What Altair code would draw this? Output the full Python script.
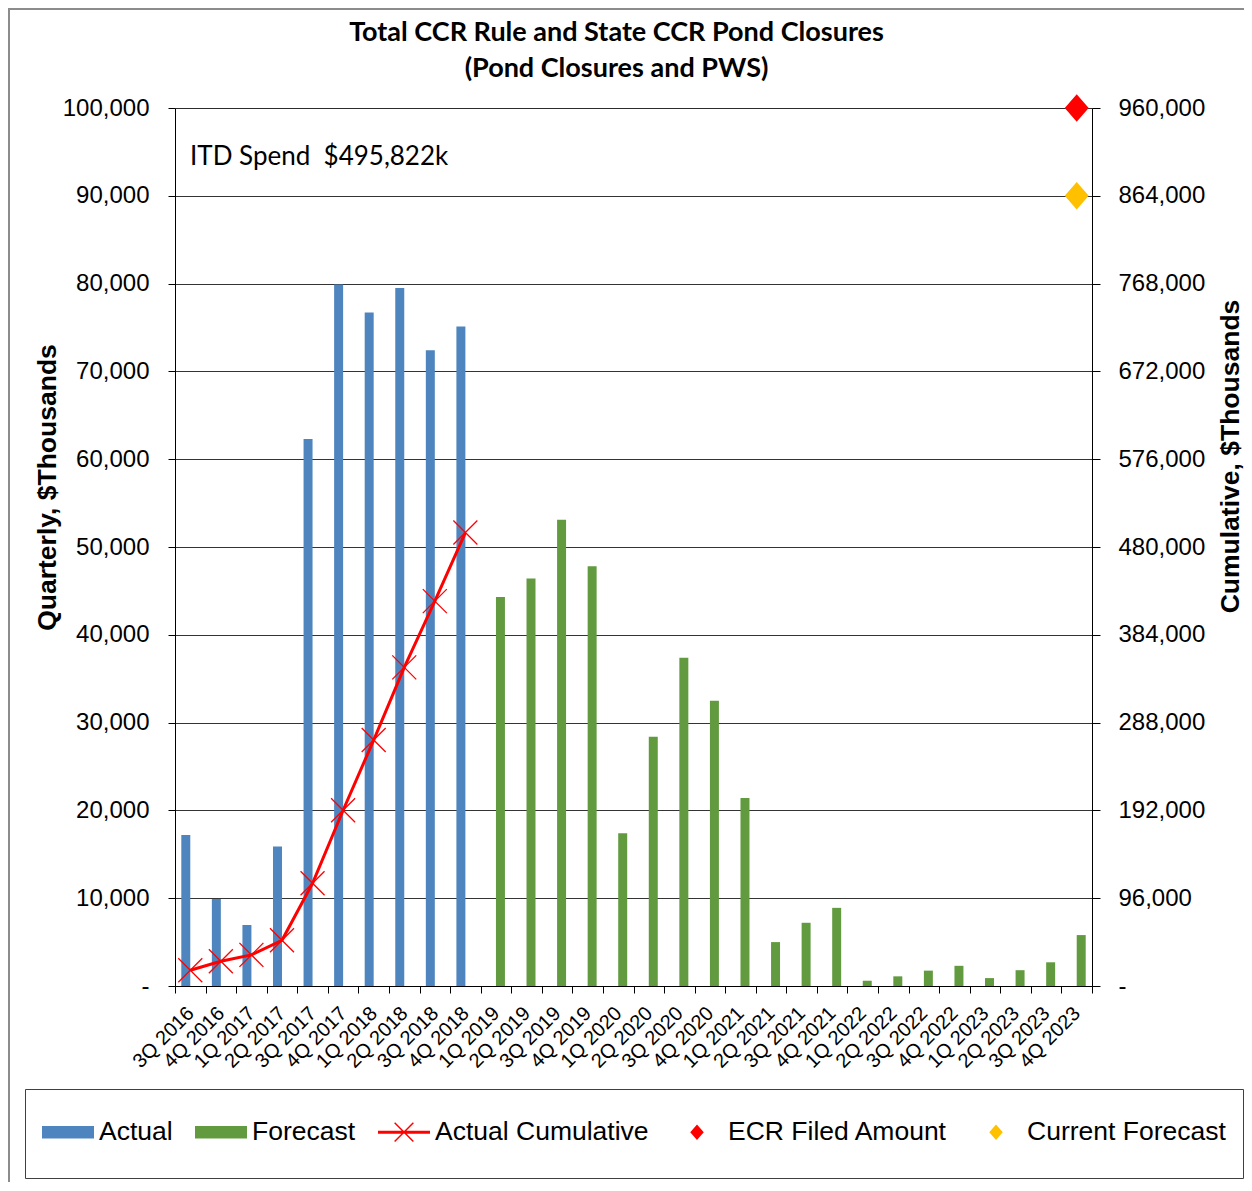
import altair as alt
import pandas as pd

# ---------------- data ----------------
categories = [
    "3Q 2016", "4Q 2016", "1Q 2017", "2Q 2017", "3Q 2017", "4Q 2017",
    "1Q 2018", "2Q 2018", "3Q 2018", "4Q 2018", "1Q 2019", "2Q 2019",
    "3Q 2019", "4Q 2019", "1Q 2020", "2Q 2020", "3Q 2020", "4Q 2020",
    "1Q 2021", "2Q 2021", "3Q 2021", "4Q 2021", "1Q 2022", "2Q 2022",
    "3Q 2022", "4Q 2022", "1Q 2023", "2Q 2023", "3Q 2023", "4Q 2023",
]
actual_quarters = categories[:10]
actual_values = [17200, 9900, 6950, 15900, 62300, 79900, 76700, 79500, 72400, 75100]
cumulative_values = [17200, 27100, 34000, 50000, 112300, 192200, 268900, 348400, 420800, 495822]

forecast_quarters = categories[10:]
forecast_values = [44300, 46400, 53100, 47800, 17400, 28400, 37400, 32500, 21400, 5000,
                   7200, 8900, 600, 1100, 1750, 2300, 900, 1800, 2700, 5800]

marker_quarter = "4Q 2023"
ecr_filed_amount = 960000
current_forecast = 864000
itd_label = "ITD Spend\u00a0 $495,822k"

series_names = ["Actual", "Forecast", "Actual Cumulative", "ECR Filed Amount", "Current Forecast"]
series_colors = ["#4E85BE", "#629B3F", "#FF0000", "#FF0000", "#FFC000"]

left_ticks = list(range(0, 100001, 10000))
right_ticks = list(range(0, 960001, 96000))

title_lines = ["Total CCR Rule and State CCR Pond Closures", "(Pond Closures and PWS)"]

# ---------------- tables ----------------
bars_df = pd.DataFrame({
    "quarter": actual_quarters + forecast_quarters,
    "value": actual_values + forecast_values,
    "series": ["Actual"] * len(actual_values) + ["Forecast"] * len(forecast_values),
})
cum_df = pd.DataFrame({"quarter": actual_quarters, "value": cumulative_values,
                       "series": "Actual Cumulative"})
diamond_df = pd.DataFrame({
    "quarter": [marker_quarter, marker_quarter],
    "value": [ecr_filed_amount, current_forecast],
    "series": ["ECR Filed Amount", "Current Forecast"],
})
note_df = pd.DataFrame({"label": [itd_label]})

FONT = "Liberation Sans"

# legend / marker symbols (custom paths, unit box -1..1)
# the zero-area sub-paths only widen the legend row height (same for every entry)
pad_path = "M0,-1.1L0.001,-1.1L0,-1.1Z M0,1.1L0.001,1.1L0,1.1Z"
bar_path = "M-1,-0.24H1V0.24H-1Z" + pad_path
linex_path = ("M-1,-0.06H1V0.06H-1Z"
              "M-0.38,-0.34L-0.34,-0.38L0.38,0.34L0.34,0.38Z"
              "M0.34,-0.38L0.38,-0.34L-0.34,0.38L-0.38,0.34Z" + pad_path)
diamond_path = "M0,-0.3L0.26,0L0,0.3L-0.26,0Z" + pad_path
series_shapes = [bar_path, bar_path, linex_path, diamond_path, diamond_path]

legend = alt.Legend(
    title=None, orient="none", legendX=-150, legendY=981, direction="horizontal",
    columns=5, padding=17, strokeColor="#404040", fillColor="white",
    symbolSize=2704, symbolStrokeWidth=0, symbolOpacity=1,
    labelFont=FONT, labelFontSize=26.5, labelColor="black", labelOffset=5,
    columnPadding=22, labelLimit=500,
)
color_enc = alt.Color("series:N", scale=alt.Scale(domain=series_names, range=series_colors),
                      legend=legend)
shape_enc = alt.Shape("series:N", scale=alt.Scale(domain=series_names, range=series_shapes),
                      legend=legend)

x_enc = alt.X(
    "quarter:N",
    scale=alt.Scale(domain=categories, paddingInner=0, paddingOuter=0),
    axis=alt.Axis(
        title=None, tickBand="extent", tickSize=7, tickColor="black", domainColor="black",
        labelAngle=315, labelAlign="right", labelBaseline="middle", labelPadding=17,
        labelFont=FONT, labelFontSize=20, labelColor="black", grid=False,
    ),
)

y_left = alt.Y(
    "value:Q",
    scale=alt.Scale(domain=[0, 100000], nice=False),
    axis=alt.Axis(
        orient="left", values=left_ticks,
        labelExpr="datum.value == 0 ? '-' : format(datum.value, ',')",
        grid=True, gridColor="black", gridWidth=0.8, tickSize=7, tickColor="black",
        domainColor="black", labelPadding=19, labelFont=FONT, labelFontSize=24,
        labelColor="black", title="Quarterly, $Thousands", titleFont=FONT, titleFontSize=26.5,
        titleFontWeight="bold", titleColor="black", titleAngle=270, titleX=-128, titleY=379,
        titleBaseline="middle", titleAlign="center",
    ),
)
y_right = alt.Y(
    "value:Q",
    scale=alt.Scale(domain=[0, 960000], nice=False),
    axis=alt.Axis(
        orient="right", values=right_ticks,
        labelExpr="datum.value == 0 ? '-' : format(datum.value, ',')",
        grid=False, tickSize=8, tickColor="black", domainColor="black", labelPadding=18,
        labelFont=FONT, labelFontSize=24, labelColor="black",
        title="Cumulative, $Thousands", titleFont=FONT, titleFontSize=26.5,
        titleFontWeight="bold", titleColor="black", titleAngle=270, titleX=138, titleY=348,
        titleBaseline="middle", titleAlign="center",
    ),
)

bars = alt.Chart(bars_df).mark_bar().encode(
    x=x_enc,
    xOffset=alt.XOffset("series:N", scale=alt.Scale(domain=["Actual", "Forecast"],
                                                     paddingInner=0, paddingOuter=0.7)),
    y=y_left,
    color=color_enc,
)

line = alt.Chart(cum_df).mark_line(color="#FF0000", strokeWidth=3).encode(x=x_enc, y=y_right)
xmarks = alt.Chart(cum_df).mark_point(
    shape="M-1,-1L1,1M-1,1L1,-1", size=576, color="#FF0000", strokeWidth=1.3,
    filled=False, opacity=1,
).encode(x=x_enc, y=y_right)
diamonds = alt.Chart(diamond_df).mark_point(filled=True, size=8464, opacity=1).encode(
    x=x_enc, y=y_right, color=color_enc, shape=shape_enc,
)
note = alt.Chart(note_df).mark_text(
    align="left", baseline="middle", font="Lato", fontSize=26, color="black",
).encode(text="label:N", x=alt.value(15), y=alt.value(49))
frame_left = alt.Chart(note_df).mark_rule(color="#8c8c8c", strokeWidth=2).encode(
    x=alt.value(-166), y=alt.value(-100), y2=alt.value(1074))
frame_top = alt.Chart(note_df).mark_rule(color="#8c8c8c", strokeWidth=2).encode(
    x=alt.value(-167), x2=alt.value(1069), y=alt.value(-99))

right_layer = alt.layer(line, xmarks, diamonds, note, frame_left, frame_top)

chart = alt.layer(bars, right_layer).resolve_scale(y="independent").properties(
    width=917, height=878,
    title=alt.TitleParams(
        text=title_lines, font="Lato", fontSize=27, fontWeight="bold", color="black",
        anchor="middle", offset=-76, lineHeight=36, dx=-17,
    ),
    autosize=alt.AutoSizeParams(type="none"),
    padding={"left": 167, "top": 100, "right": 152, "bottom": 196},
).configure_view(stroke=None).configure(background="white")

chart.save("out.html", embed_options={"renderer": "svg", "actions": False})
